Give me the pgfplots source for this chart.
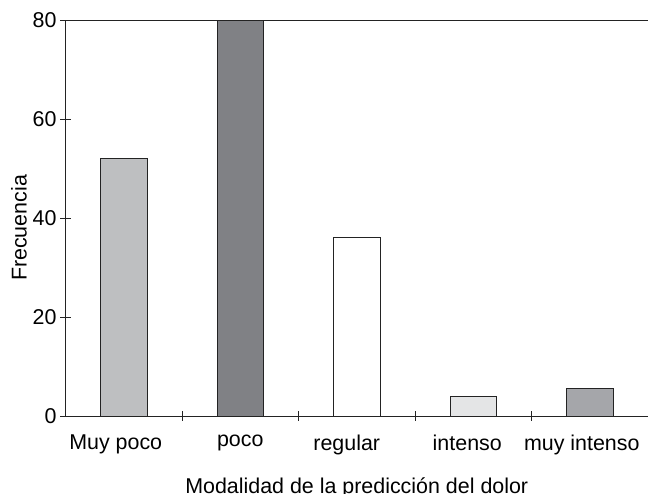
\documentclass[border=0pt]{standalone}
\usepackage{pgfplots}
\pgfplotsset{compat=1.18}
\usepackage{fontspec}
\setmainfont{Liberation Sans}
\definecolor{cA}{RGB}{190,191,193}
\definecolor{cB}{RGB}{128,129,133}
\definecolor{cC}{RGB}{255,255,255}
\definecolor{cD}{RGB}{228,229,230}
\definecolor{cE}{RGB}{165,166,170}
\definecolor{ln}{RGB}{35,35,35}
\begin{document}
\begin{tikzpicture}
\begin{axis}[
  scale only axis,
  width=582.5bp, height=396bp,
  xmin=-0.5, xmax=4.5,
  ymin=0, ymax=80,
  axis x line*=box,
  axis y line*=left,
  axis line style={ln, line width=0.9bp},
  xtick={0,1,2,3,4},
  xticklabels={\hbox{Muy poco\kern16bp},\raisebox{3bp}{poco},\hbox{\raisebox{2bp}{regular}\kern20bp},\hbox{\raisebox{-2bp}{intenso}\kern12bp},\hbox{\raisebox{2bp}{muy intenso}\kern16bp}},
  minor xtick={0.5,1.5,2.5,3.5},
  xtick pos=bottom,
  ytick={0,20,40,60,80},
  ytick pos=left,
  tick align=center,
  major x tick style={draw=none},
  minor tick length=10bp,
  major tick length=11bp,
  every tick/.style={ln, line width=0.9bp},
  /pgf/number format/assume math mode=true,
  tick label style={font=\fontsize{21.5}{24}\selectfont},
  xticklabel style={yshift=-10bp},
  label style={font=\fontsize{21.5}{24}\selectfont},
  xlabel={Modalidad de la predicción del dolor},
  ylabel={Frecuencia},
  xlabel style={yshift=-15.5bp},
  ylabel style={at={(axis description cs:-0.0798,0.475)}, anchor=center},
  clip=false,
]
\addplot[ybar, bar width=0.4, fill=cA, draw=ln, line width=0.9bp] coordinates {(0,52)};
\addplot[ybar, bar width=0.4, fill=cB, draw=ln, line width=0.9bp] coordinates {(1,80)};
\addplot[ybar, bar width=0.4, fill=cC, draw=ln, line width=0.9bp] coordinates {(2,36)};
\addplot[ybar, bar width=0.4, fill=cD, draw=ln, line width=0.9bp] coordinates {(3,4)};
\addplot[ybar, bar width=0.4, fill=cE, draw=ln, line width=0.9bp] coordinates {(4,5.6)};
\end{axis}
\pgfresetboundingbox
\useasboundingbox ([xshift=-65.5bp,yshift=-78bp]current axis.south west) rectangle ([yshift=20bp]current axis.north east);
\end{tikzpicture}
\end{document}
